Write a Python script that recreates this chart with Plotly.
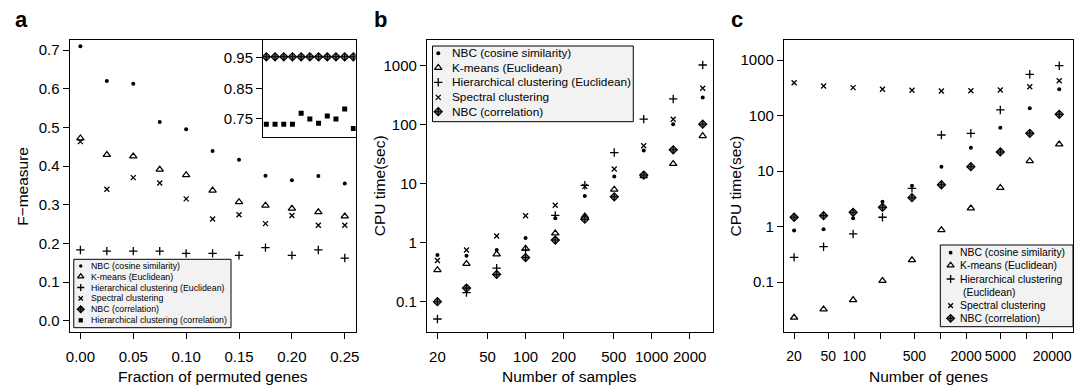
import plotly.graph_objects as go

W, H = 1078, 385

# ---------------- data ----------------
# panel a: F-measure vs fraction of permuted genes
frac = [0.000, 0.025, 0.050, 0.075, 0.100, 0.125, 0.150, 0.175, 0.200, 0.225, 0.250]
a_nbc_cos = [0.710, 0.620, 0.613, 0.514, 0.495, 0.439, 0.416, 0.375, 0.363, 0.374, 0.355]
a_kmeans = [0.472, 0.429, 0.425, 0.391, 0.377, 0.337, 0.307, 0.298, 0.290, 0.281, 0.270]
a_hier_euc = [0.183, 0.180, 0.180, 0.180, 0.174, 0.174, 0.169, 0.189, 0.169, 0.183, 0.162]
a_spectral = [0.463, 0.340, 0.370, 0.356, 0.315, 0.263, 0.274, 0.251, 0.272, 0.247, 0.247]
# inset of panel a
a_nbc_corr = [0.953, 0.953, 0.953, 0.953, 0.953, 0.953, 0.953, 0.953, 0.953, 0.953, 0.953]
a_hier_corr = [0.733, 0.733, 0.733, 0.733, 0.769, 0.750, 0.736, 0.760, 0.750, 0.783, 0.719]

# panel b: CPU time vs number of samples
samples = [20, 34, 59, 100, 172, 295, 505, 865, 1482, 2540]
b_nbc_cos = [0.62, 0.60, 0.75, 1.2, 2.6, 6.2, 13.2, 36.5, 102, 288]
b_kmeans = [0.345, 0.44, 0.64, 0.80, 1.44, 2.8, 8.0, 13.5, 21.7, 64.6]
b_hier_euc = [0.051, 0.143, 0.37, 0.75, 2.9, 9.4, 33.7, 124, 273, 1027]
b_spectral = [0.50, 0.75, 1.3, 2.86, 4.3, 9.0, 17.7, 44, 124, 415]
b_nbc_corr = [0.10, 0.17, 0.29, 0.56, 1.11, 2.5, 6.0, 14, 37.5, 102]

# panel c: CPU time vs number of genes
genes = [20, 44, 97, 213, 469, 1031, 2268, 4989, 10975, 24145]
c_nbc_cos = [0.85, 0.90, 1.42, 2.82, 5.48, 12.0, 26.5, 60.8, 136, 299]
c_kmeans = [0.023, 0.0325, 0.048, 0.106, 0.251, 0.87, 2.14, 5.04, 15.3, 30.5]
c_hier_euc = [0.28, 0.436, 0.74, 1.48, 4.9, 44.9, 48.2, 127, 557, 796]
c_spectral = [393, 343, 320, 299, 287, 279, 282, 290, 333, 427]
c_nbc_corr = [1.48, 1.58, 1.82, 2.24, 3.33, 5.7, 12.05, 22.2, 48.2, 106]

# tick labels
a_xticks = [0.00, 0.05, 0.10, 0.15, 0.20, 0.25]
a_xticktext = ["0.00", "0.05", "0.10", "0.15", "0.20", "0.25"]
a_yticks = [0.0, 0.1, 0.2, 0.3, 0.4, 0.5, 0.6, 0.7]
a_yticktext = ["0.0", "0.1", "0.2", "0.3", "0.4", "0.5", "0.6", "0.7"]
inset_yticks = [0.75, 0.85, 0.95]
inset_yticktext = ["0.75", "0.85", "0.95"]
b_xticks = [20, 50, 100, 200, 500, 1000, 2000]
b_xticktext = ["20", "50", "100", "200", "500", "1000", "2000"]
c_xticks = [20, 50, 100, 200, 500, 1000, 2000, 5000, 10000, 20000]
c_xticktext = ["20", "50", "100", "", "500", "", "2000", "5000", "", "20000"]
log_yticks = [0.1, 1, 10, 100, 1000]
log_yticktext = ["0.1", "1", "10", "100", "1000"]

labels = {
    "nbc_cos": "NBC (cosine similarity)",
    "kmeans": "K-means (Euclidean)",
    "hier_euc": "Hierarchical clustering (Euclidean)",
    "spectral": "Spectral clustering",
    "nbc_corr": "NBC (correlation)",
    "hier_corr": "Hierarchical clustering (correlation)",
}

# ---------------- styles ----------------
FONT = "Liberation Sans, Arial, Helvetica, sans-serif"


def mstyle(key, scale=1.0):
    s = {
        "nbc_cos": dict(symbol="circle", size=4, color="black", line=dict(width=0, color="black")),
        "kmeans": dict(symbol="triangle-up-open", size=6.5, color="black", line=dict(width=1.25, color="black")),
        "hier_euc": dict(symbol="cross-thin", size=6, color="black", line=dict(width=1.3, color="black")),
        "spectral": dict(symbol="x-thin", size=5, color="black", line=dict(width=1.3, color="black")),
        "nbc_corr": dict(symbol="diamond-cross", size=6.3, color="#666666", line=dict(width=1.1, color="black")),
        "hier_corr": dict(symbol="square", size=5, color="black", line=dict(width=0, color="black")),
    }[key]
    s = dict(s)
    s["size"] = s["size"] * scale
    return s


fig = go.Figure()


def add(x, y, key, xa, ya):
    fig.add_trace(go.Scatter(x=x, y=y, mode="markers", marker=mstyle(key),
                             name=labels[key], showlegend=False, xaxis=xa, yaxis=ya,
                             hoverinfo="x+y+name"))


# panel a
add(frac, a_nbc_cos, "nbc_cos", "x", "y")
add(frac, a_kmeans, "kmeans", "x", "y")
add(frac, a_hier_euc, "hier_euc", "x", "y")
add(frac, a_spectral, "spectral", "x", "y")
# inset
add(frac, a_nbc_corr, "nbc_corr", "x4", "y4")
add(frac, a_hier_corr, "hier_corr", "x4", "y4")
# panel b
add(samples, b_nbc_cos, "nbc_cos", "x2", "y2")
add(samples, b_kmeans, "kmeans", "x2", "y2")
add(samples, b_hier_euc, "hier_euc", "x2", "y2")
add(samples, b_spectral, "spectral", "x2", "y2")
add(samples, b_nbc_corr, "nbc_corr", "x2", "y2")
# panel c
add(genes, c_nbc_cos, "nbc_cos", "x3", "y3")
add(genes, c_kmeans, "kmeans", "x3", "y3")
add(genes, c_hier_euc, "hier_euc", "x3", "y3")
add(genes, c_spectral, "spectral", "x3", "y3")
add(genes, c_nbc_corr, "nbc_corr", "x3", "y3")


def dx(p):
    return p / W


def dy(p):
    return 1 - p / H


TICKFONT = dict(family=FONT, size=15, color="black")
axis_common = dict(showline=True, mirror=True, linecolor="black", linewidth=1,
                   ticks="outside", ticklen=6, tickwidth=1, tickcolor="black",
                   showgrid=False, zeroline=False, fixedrange=True, tickangle=0)

layout = dict(
    width=W, height=H, margin=dict(l=0, r=0, t=0, b=0),
    paper_bgcolor="white", plot_bgcolor="rgba(0,0,0,0)",
    showlegend=False,
    font=dict(family=FONT, color="black"),
    xaxis=dict(domain=[dx(66), dx(354.3)], range=[-0.0103, 0.2603], tickmode="array",
               tickvals=a_xticks, ticktext=a_xticktext, anchor="y", ticklabelstandoff=5,
               tickfont=TICKFONT, **axis_common),
    yaxis=dict(domain=[dy(332), dy(40)], range=[-0.0292, 0.7259], tickmode="array",
               tickvals=a_yticks, ticktext=a_yticktext, anchor="x", tickfont=TICKFONT, **axis_common),
    xaxis2=dict(domain=[dx(426), dx(714)], type="log", range=[1.217, 3.484], tickmode="array",
                tickvals=b_xticks, ticktext=b_xticktext, anchor="y2", ticklabelstandoff=5,
                tickfont=TICKFONT, **axis_common),
    yaxis2=dict(domain=[dy(331.7), dy(40)], type="log", range=[-1.508, 3.435], tickmode="array",
                tickvals=log_yticks, ticktext=log_yticktext, anchor="x2", tickfont=TICKFONT, **axis_common),
    xaxis3=dict(domain=[dx(785.7), dx(1077)], type="log", range=[1.182, 4.543], tickmode="array",
                tickvals=c_xticks, ticktext=c_xticktext, anchor="y3", ticklabelstandoff=5,
                tickfont=dict(family=FONT, size=14, color="black"), **axis_common),
    yaxis3=dict(domain=[dy(331.7), dy(40)], type="log", range=[-1.892, 3.364], tickmode="array",
                tickvals=log_yticks, ticktext=log_yticktext, anchor="x3", tickfont=TICKFONT, **axis_common),
    xaxis4=dict(domain=[dx(261), dx(354.3)], range=[-0.0094, 0.2566], anchor="y4",
                showline=True, mirror=True, linecolor="black", linewidth=1, ticks="",
                showticklabels=False, showgrid=False, zeroline=False, fixedrange=True),
    yaxis4=dict(domain=[dy(136.7), dy(40)], range=[0.6922, 1.0078], tickmode="array",
                tickvals=inset_yticks, ticktext=inset_yticktext, anchor="x4", tickfont=TICKFONT, **axis_common),
    xaxis5=dict(domain=[0, 1], range=[0, W], anchor="y5", visible=False, fixedrange=True),
    yaxis5=dict(domain=[0, 1], range=[H, 0], anchor="x5", visible=False, fixedrange=True),
)
fig.update_layout(**layout)

annotations = []
shapes = []

# panel letters
for letter, xl in (("a", 9), ("b", 371), ("c", 730)):
    annotations.append(dict(text="<b>%s</b>" % letter, x=dx(xl), y=dy(19), xref="paper", yref="paper",
                            xanchor="left", yanchor="middle", showarrow=False,
                            font=dict(family=FONT, size=22, color="black")))

# axis titles
TFONT = dict(family=FONT, size=15.5, color="black")
for txt, xc in (("Fraction of permuted genes", 210.5), ("Number of samples", 570), ("Number of genes", 931.5)):
    annotations.append(dict(text=txt, x=dx(xc), y=dy(376.5), xref="paper", yref="paper",
                            xanchor="center", yanchor="middle", showarrow=False, font=TFONT))
for txt, xc in (("F\u2212measure", 19), ("CPU time(sec)", 379), ("CPU time(sec)", 737)):
    annotations.append(dict(text=txt, x=dx(xc), y=dy(186), xref="paper", yref="paper",
                            xanchor="center", yanchor="middle", showarrow=False, font=TFONT,
                            textangle=-90))

# custom legends (drawn in the full-figure pixel subplot x5/y5)
legends = [
    dict(box=(70.3, 259.3, 228.7, 327.7), sym_x=77.3, text_x=85.5, font=8.8, scale=0.85,
         items=[("nbc_cos", 266.0), ("kmeans", 276.6), ("hier_euc", 287.5), ("spectral", 298.3),
                ("nbc_corr", 309.3), ("hier_corr", 320.3)], extra=[]),
    dict(box=(431.7, 46, 634, 121.7), sym_x=437.5, text_x=449, font=11.8, scale=1.0,
         items=[("nbc_cos", 53.3), ("kmeans", 67.7), ("hier_euc", 82.3), ("spectral", 97.4),
                ("nbc_corr", 111.7)], extra=[]),
    dict(box=(943.3, 245, 1077, 326.7), sym_x=953.7, text_x=961, font=10.4, scale=0.95,
         items=[("nbc_cos", 252.7), ("kmeans", 265.3), ("hier_euc", 279.0), ("spectral", 305.7),
                ("nbc_corr", 318.3)],
         extra=[("(Euclidean)", 292.3)]),
]

for lg in legends:
    x0, y0, x1, y1 = lg["box"]
    shapes.append(dict(type="rect", xref="x5", yref="y5", x0=x0, y0=y0, x1=x1, y1=y1,
                       fillcolor="#f2f2f2", line=dict(color="black", width=1), layer="below"))
    for key, yr in lg["items"]:
        fig.add_trace(go.Scatter(x=[lg["sym_x"]], y=[yr], mode="markers", marker=mstyle(key, lg["scale"]),
                                 showlegend=False, hoverinfo="skip", xaxis="x5", yaxis="y5", cliponaxis=False))
        txt = labels[key]
        if key == "hier_euc" and lg["extra"]:
            txt = "Hierarchical clustering"
        annotations.append(dict(text=txt, x=lg["text_x"], y=yr, xref="x5", yref="y5",
                                xanchor="left", yanchor="middle", showarrow=False,
                                font=dict(family=FONT, size=lg["font"], color="black")))
    for txt, yr in lg["extra"]:
        annotations.append(dict(text=txt, x=lg["text_x"] + 3, y=yr, xref="x5", yref="y5",
                                xanchor="left", yanchor="middle", showarrow=False,
                                font=dict(family=FONT, size=lg["font"], color="black")))

fig.update_layout(annotations=annotations, shapes=shapes)
fig.write_html("out.html")
